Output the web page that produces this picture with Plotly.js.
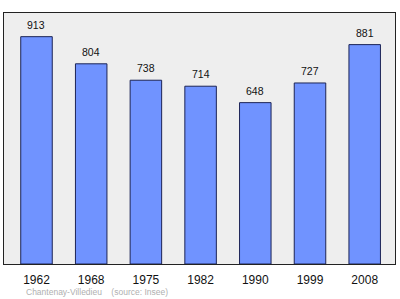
<!DOCTYPE html>
<html><head><meta charset="utf-8">
<script src="https://cdn.plot.ly/plotly-3.0.1.min.js"></script>
<style>html,body{margin:0;padding:0;background:#fff;}#chart{width:400px;height:299px;}</style>
</head><body><div id="chart"></div>
<script>
var years = ['1962','1968','1975','1982','1990','1999','2008'];
var population = [913, 804, 738, 714, 648, 727, 881];
var footer = 'Chantenay-Villedieu    (source: Insee)';

var trace = {
  type: 'bar', x: years, y: population, width: 0.576,
  marker: {color: '#7093ff', line: {color: '#1c2456', width: 1}},
  hoverinfo: 'none'
};
var anns = years.map(function(y, i){
  return {x: i, y: population[i], xref: 'x', yref: 'y', text: String(population[i]),
    showarrow: false, yanchor: 'middle', yshift: 12,
    font: {family: 'Liberation Sans, Arial, sans-serif', size: 10.5, color: '#111'}};
});
anns.push({xref: 'paper', yref: 'paper', x: 0.051, y: -0.1116, xanchor: 'left', yanchor: 'middle',
  text: footer, showarrow: false,
  font: {family: 'Liberation Sans, Arial, sans-serif', size: 8.5, color: '#b0b0b0'}});

var layout = {
  width: 400, height: 299,
  margin: {l: 4, r: 5, t: 13, b: 35, pad: 0},
  paper_bgcolor: '#ffffff', plot_bgcolor: '#eeeeee',
  showlegend: false,
  xaxis: {type: 'category', range: [-0.594, 6.554], showline: true, mirror: true,
    linecolor: '#222', linewidth: 1, showgrid: false, zeroline: false, ticks: '',
    ticklabelstandoff: 5,
    tickfont: {family: 'Liberation Sans, Arial, sans-serif', size: 12, color: '#111'}},
  yaxis: {range: [0, 1008], showline: true, mirror: true, linecolor: '#222', linewidth: 1,
    showgrid: false, zeroline: false, showticklabels: false, ticks: ''},
  annotations: anns
};
Plotly.newPlot('chart', [trace], layout, {staticPlot: true, displayModeBar: false});
</script></body></html>
